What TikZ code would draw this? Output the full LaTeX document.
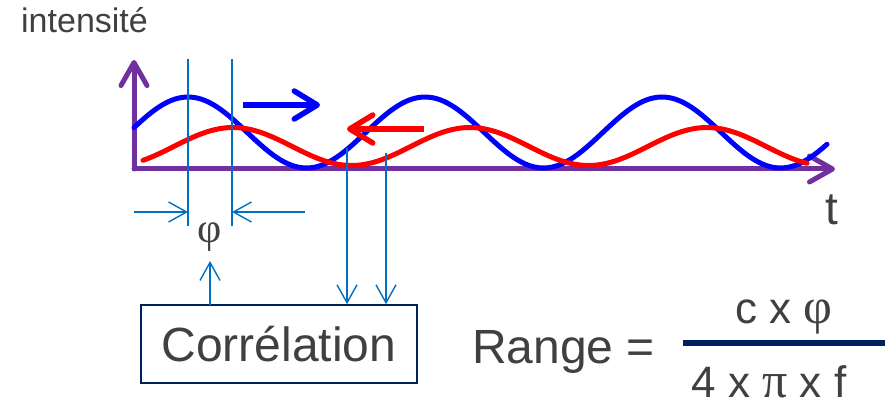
\documentclass[tikz,border=0pt]{standalone}
\usepackage{fontspec}
\setmainfont{Liberation Sans}
\newfontfamily\grk{Liberation Serif}
\usetikzlibrary{arrows.meta}
\definecolor{axiscol}{HTML}{7030A0}
\definecolor{wblue}{HTML}{0000FF}
\definecolor{wred}{HTML}{FF0000}
\definecolor{lblue}{HTML}{0070C0}
\definecolor{navy}{HTML}{002060}
\definecolor{txt}{HTML}{404040}
\tikzset{
  axisline/.style={draw=axiscol, line width=5pt, line cap=round,
    -{Straight Barb[length=23pt,width=26pt,line width=5pt,round]}},
  wave/.style={line width=5pt, line cap=round},
  bigarrow/.style={line width=5.5pt,
    -{Straight Barb[length=23pt,width=28pt,line width=5.5pt,round]}},
  thin/.style={draw=lblue, line width=1.4pt},
  thinarrow/.style={thin, -{Straight Barb[length=18pt,width=20pt,line width=1.4pt]}},
  lbl/.style={text=txt, inner sep=0pt},
  corrbox/.style={draw=navy, line width=1.6pt, minimum width=276pt, minimum height=78pt,
    inner sep=0pt, text=txt, font=\fontsize{48}{52}\selectfont},
  formula/.style={lbl, font=\fontsize{44}{48}\selectfont},
}
\begin{document}
\begin{tikzpicture}[x=1pt,y=-1pt]
\useasboundingbox[fill=white] (0,0) rectangle (885,403);
% axes
\coordinate (O) at (134,169);
\coordinate (ytip) at (134,60);
\coordinate (xtip) at (835,169);
\draw[axisline] (O) -- (ytip);
\draw[axisline] (O) -- (xtip);
% waves
\draw[wave, draw=wblue] plot[domain=134:827, samples=160, smooth]
  (\x, {132.5-35.5*cos(1.519*(\x-188))});
\draw[wave, draw=wred] plot[domain=143:807, samples=160, smooth]
  (\x, {146.5-19*cos(1.519*(\x-233))});
% direction arrows
\coordinate (ba1) at (243,105);
\coordinate (ba2) at (320,105);
\coordinate (ra1) at (424,129);
\coordinate (ra2) at (347,129);
\draw[bigarrow, draw=wblue] (ba1) -- (ba2);
\draw[bigarrow, draw=wred] (ra1) -- (ra2);
% labels
\node[lbl, anchor=base west, font=\fontsize{34}{38}\selectfont] (inten) at (21,33) {intensité};
\node[lbl, anchor=base, font=\fontsize{46}{50}\selectfont] (tlab) at (832,225) {t};
% phase markers
\coordinate (p1t) at (188,59);
\coordinate (p1b) at (188,226);
\coordinate (p2t) at (232,59);
\coordinate (p2b) at (232,226);
\draw[thin] (p1t) -- (p1b);
\draw[thin] (p2t) -- (p2b);
\coordinate (d1) at (134,212);
\coordinate (d2) at (305,212);
\draw[thinarrow] (d1) -- (d1 -| p1b);
\draw[thinarrow] (d2) -- (d2 -| p2b);
\node[lbl, font=\grk\fontsize{42}{44}\selectfont] (phi) at (210,237) {φ};
% correlation box
\node[corrbox] (corr) at (279,344) {Corrélation};
\coordinate (c1) at (347,148);
\coordinate (c2) at (386,153);
\draw[thinarrow] (c1) -- (c1 |- corr.north);
\draw[thinarrow] (c2) -- (c2 |- corr.north);
\coordinate (up0) at (210,305);
\draw[thinarrow] (up0) -- (210,261);
% formula
\node[lbl, anchor=base west, font=\fontsize{48}{52}\selectfont] (range) at (472,363) {Range =};
\coordinate (f1) at (683,343);
\coordinate (f2) at (885,343);
\draw[draw=navy, line width=6pt] (f1) -- (f2);
\node[formula, anchor=base] (num) at (784,323) {c x {\grk\fontsize{50}{52}\selectfont φ}};
\node[formula, anchor=base] (den) at (769,397) {4 x {\grk\fontsize{50}{52}\selectfont π} x f};
\end{tikzpicture}
\end{document}
